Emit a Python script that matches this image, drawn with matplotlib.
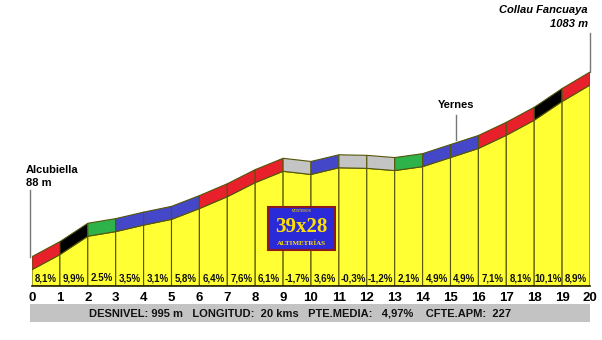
import matplotlib
matplotlib.use('Agg')
import matplotlib.pyplot as plt
from matplotlib.patches import Polygon, Rectangle

# ---- data ----
km = list(range(21))
elevations = [88, 169, 268, 293, 328, 359, 417, 481, 557, 618, 601,
              637, 634, 622, 643, 692, 741, 812, 893, 994, 1083]
grades = [8.1, 9.9, 2.5, 3.5, 3.1, 5.8, 6.4, 7.6, 6.1, -1.7,
          3.6, -0.3, -1.2, 2.1, 4.9, 4.9, 7.1, 8.1, 10.1, 8.9]
grade_labels = ["8,1%", "9,9%", "2.5%", "3,5%", "3,1%", "5,8%", "6,4%", "7,6%",
                "6,1%", "-1,7%", "3,6%", "-0,3%", "-1,2%", "2,1%", "4,9%",
                "4,9%", "7,1%", "8,1%", "10,1%", "8,9%"]
tick_labels = [str(k) for k in km]
start_name, start_alt = "Alcubiella", "88 m"
end_name, end_alt = "Collau Fancuaya", "1083 m"
mid_name, mid_km = "Yernes", 15.2
summary = "DESNIVEL: 995 m   LONGITUD:  20 kms   PTE.MEDIA:   4,97%    CFTE.APM:  227"

plt.rcParams['font.family'] = ['Liberation Sans', 'DejaVu Sans']

def grade_color(g):
    if g < 0:
        return '#c4c4c4'
    if g < 3:
        return '#2eb24a'
    if g < 6:
        return '#4448c8'
    if g < 9:
        return '#e8202c'
    return '#000000'

W, H = 602, 340
fig = plt.figure(figsize=(W / 100, H / 100), dpi=100)
fig.patch.set_facecolor('white')
ax = fig.add_axes([32 / W, 54 / H, 558 / W, 286 / H])
ax.set_xlim(0, 20)
ax.set_ylim(0, 1541)
for s in ax.spines.values():
    s.set_visible(False)
ax.set_yticks([])
ax.set_xticks(km)
ax.set_xticklabels(tick_labels, fontsize=9.5, fontweight='bold')
ax.tick_params(axis='x', length=0, pad=4)

off = 70
edge = '#55550a'
for i in range(20):
    x0, x1 = km[i], km[i + 1]
    e0, e1 = elevations[i], elevations[i + 1]
    ax.add_patch(Polygon([(x0, 0), (x0, e0), (x1, e1), (x1, 0)], closed=True,
                         fc='#ffff33', ec=edge, lw=0.8))
    ax.add_patch(Polygon([(x0, e0), (x0, e0 + off), (x1, e1 + off), (x1, e1)], closed=True,
                         fc=grade_color(grades[i]), ec=edge, lw=0.8))
    ax.text((x0 + x1) / 2, 43, grade_labels[i], ha='center', va='center',
            fontsize=7, fontweight='bold', color='#111111')
ax.plot([0, 20], [0, 0], color='#222200', lw=1.2, clip_on=False)

# start label
ax.plot([-0.06, -0.06], [elevations[0] + off, 517], color='#777777', lw=1, clip_on=False)
ax.text(-0.22, 625, start_name, ha='left', va='center', fontsize=8, fontweight='bold', clip_on=False)
ax.text(-0.22, 553, start_alt, ha='left', va='center', fontsize=8, fontweight='bold', clip_on=False)

# end label
ax.plot([20, 20], [elevations[-1] + off, 1363], color='#777777', lw=1, clip_on=False)
ax.text(19.93, 1487, end_name, ha='right', va='center', fontsize=8, fontweight='bold',
        fontstyle='italic', clip_on=False)
ax.text(19.93, 1412, end_alt, ha='right', va='center', fontsize=8, fontweight='bold',
        fontstyle='italic', clip_on=False)

# middle label
ax.plot([mid_km, mid_km], [787, 921], color='#777777', lw=1)
ax.text(mid_km, 975, mid_name, ha='center', va='center', fontsize=8, fontweight='bold')

# logo
ax.add_patch(Rectangle((8.46, 194), 2.4, 232, fc='#2a2ad8', ec='#8b1a1a', lw=1.5, zorder=5))
ax.text(9.66, 404, "MONTEBOS", ha='center', va='center', fontsize=2.5, color='#ffe000', zorder=6)
ax.text(9.66, 318, "39x28", ha='center', va='center', fontsize=15, fontweight='bold',
        family=['Liberation Serif'], color='#ffe000', zorder=6)
ax.text(9.66, 230, "ALTIMETRÍAS", ha='center', va='center', fontsize=5, fontweight='bold',
        family=['Liberation Serif'], color='#ffe000', zorder=6)

# summary bar
fig.patches.append(Rectangle((30 / W, 1 - 322 / H), 560 / W, 18 / H,
                             transform=fig.transFigure, fc='#c3c3c3', ec='none'))
fig.text(300 / W, 1 - 313 / H, summary, ha='center', va='center', fontsize=8,
         fontweight='bold', color='#111111')

fig.savefig('out.png', dpi=100)
